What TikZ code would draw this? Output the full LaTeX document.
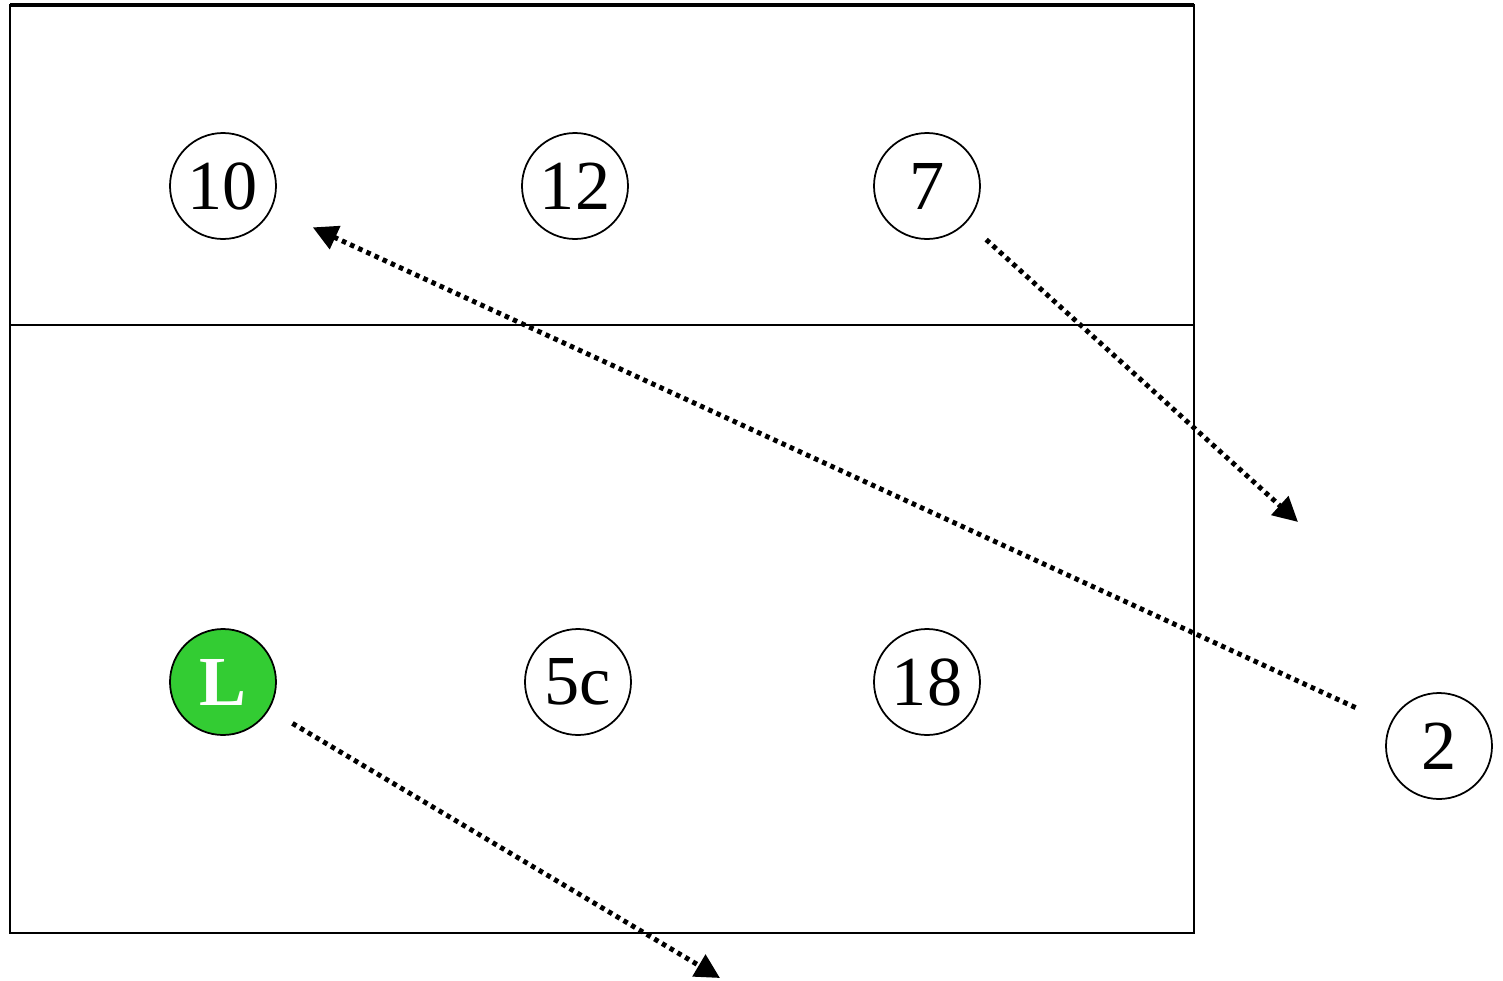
\documentclass[tikz,border=0pt]{standalone}
\usepackage{fontspec}
\setmainfont{Liberation Serif}
\usetikzlibrary{arrows.meta}
\definecolor{libgreen}{RGB}{51,204,51}
\tikzstyle{player} = [circle, minimum size=1.06cm, inner sep=0pt, draw=black, line width=0.5pt, fill=white, font=\fontsize{20}{22}\selectfont]
\tikzstyle{libero} = [player, fill=libgreen, text=white, font=\fontsize{20}{22}\selectfont\bfseries]
\tikzstyle{move} = [line width=1.4pt, dash pattern=on 1.3pt off 1.25pt, -{Triangle[length=7pt,width=7pt]}]

\begin{document}
\begin{tikzpicture}[x=1cm,y=1cm]
\useasboundingbox (0,0) rectangle (15.03,-9.81);

% court
\draw [line width=0.7pt] (0.10,-0.05) rectangle (11.94,-9.33);
\draw [line width=1.1pt] (0.10,-0.05) -- (11.94,-0.05);
\draw [line width=0.6pt] (0.10,-3.25) -- (11.94,-3.25);

% players
\node (p10) [player] at (2.23,-1.86) {10};
\node (p12) [player] at (5.75,-1.86) {12};
\node (p7) [player] at (9.27,-1.86) {7};
\node (pL) [libero] at (2.23,-6.82) {L};
\node (p5c) [player] at (5.78,-6.82) {5c};
\node (p18) [player] at (9.27,-6.82) {18};
\node (p2) [player] at (14.39,-7.46) {2};

\coordinate (e7) at (12.98,-5.22);
\coordinate (eL) at (7.20,-9.78);

% movements
\draw [move, shorten <=0.26cm] (p7) -- (e7);
\draw [move, shorten <=0.38cm, shorten >=0.45cm] (p2) -- (p10);
\draw [move, shorten <=0.27cm] (pL) -- (eL);

\end{tikzpicture}
\end{document}
